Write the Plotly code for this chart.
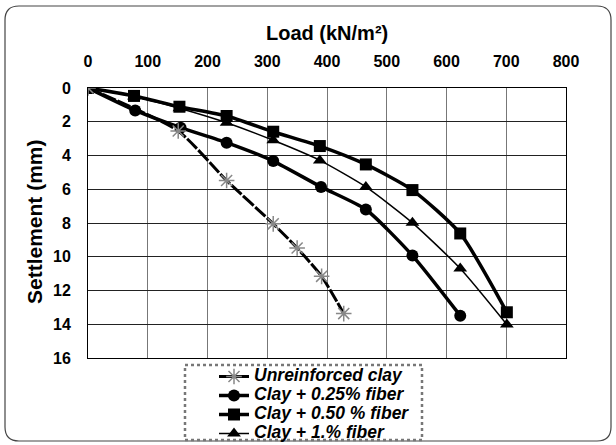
import plotly.graph_objects as go

# Data (load in kN/m2, settlement in mm)
unreinf_load = [0, 151, 232, 310, 350, 391, 428]
unreinf_settl = [0, 2.55, 5.48, 8.05, 9.48, 11.16, 13.37]

f025_load = [0, 79, 155, 232, 310, 390, 465, 543, 623]
f025_settl = [0, 1.33, 2.35, 3.24, 4.33, 5.86, 7.2, 9.93, 13.49]

f050_load = [0, 77, 153, 232, 310, 388, 465, 543, 623, 701]
f050_settl = [0, 0.47, 1.11, 1.66, 2.59, 3.44, 4.53, 6.05, 8.62, 13.29]

f100_load = [0, 77, 153, 232, 310, 388, 465, 543, 623, 701]
f100_settl = [0, 0.5, 1.2, 2.06, 3.1, 4.29, 5.86, 7.99, 10.7, 14.02]

names = ["Unreinforced clay", "Clay + 0.25% fiber", "Clay + 0.50 % fiber", "Clay + 1.% fiber"]
x_title = "Load (kN/m²)"
y_title = "Settlement (mm)"

W, H = 616, 445
L, R, T, B = 88, 50, 88, 87
pw, ph = W - L - R, H - T - B


def lab(s):
    return "<span style='font-size:17.5px'>" + s + "</span>"


fig = go.Figure()
fig.add_trace(go.Scatter(x=f100_load, y=f100_settl, name=lab(names[3]), mode="lines+markers", legendrank=4,
                         line=dict(color="black", width=1.5, shape="spline", smoothing=0.6),
                         marker=dict(symbol="triangle-up", size=12, color="black")))
fig.add_trace(go.Scatter(x=f025_load, y=f025_settl, name=lab(names[1]), mode="lines+markers", legendrank=2,
                         line=dict(color="black", width=3.5, shape="spline", smoothing=0.6),
                         marker=dict(symbol="circle", size=12, color="black")))
fig.add_trace(go.Scatter(x=f050_load, y=f050_settl, name=lab(names[2]), mode="lines+markers", legendrank=3,
                         line=dict(color="black", width=3.5, shape="spline", smoothing=0.6),
                         marker=dict(symbol="square", size=12, color="black")))
fig.add_trace(go.Scatter(x=unreinf_load, y=unreinf_settl, name=lab(names[0]), mode="lines+markers", legendrank=1,
                         line=dict(color="black", width=3, shape="spline", smoothing=0.6, dash="14px,2px"),
                         marker=dict(symbol="asterisk-open", size=13, color="#888",
                                     line=dict(color="#888", width=1.5))))


def px2paper(x, y):
    return (x - L) / pw, (H - B - y) / ph


# outer rounded border
x0, y0, x1, y1, r = 5, 6, 611, 441, 14
pts = [
    ("M", (x0 + r, y0)), ("L", (x1 - r, y0)), ("Q", (x1, y0), (x1, y0 + r)),
    ("L", (x1, y1 - r)), ("Q", (x1, y1), (x1 - r, y1)), ("L", (x0 + r, y1)),
    ("Q", (x0, y1), (x0, y1 - r)), ("L", (x0, y0 + r)), ("Q", (x0, y0), (x0 + r, y0)),
]
path = ""
for item in pts:
    cmd = item[0]
    coords = " ".join("%.5f,%.5f" % px2paper(*p) for p in item[1:])
    path += cmd + coords + " "
path += "Z"

lx0, ly0 = px2paper(185, 365)
lx1, ly1 = px2paper(422, 440)
tx, ty = px2paper(327, 33)
yx, yy = px2paper(34, 222)

fig.update_layout(
    width=W, height=H,
    margin=dict(l=L, r=R, t=T, b=B, autoexpand=False),
    paper_bgcolor="white", plot_bgcolor="white",
    font=dict(family="Liberation Sans, Arial, sans-serif", color="black"),
    showlegend=True,
    legend=dict(
        xref="container", yref="container",
        x=214 / W, y=1 - 362 / H, xanchor="left", yanchor="top",
        font=dict(size=12, weight="bold", style="italic", color="black"),
        bgcolor="rgba(0,0,0,0)", borderwidth=0,
        itemwidth=30, tracegroupgap=0,
    ),
    shapes=[
        dict(type="path", xref="paper", yref="paper", path=path,
             line=dict(color="#444", width=1.2), layer="below"),
        dict(type="rect", xref="paper", yref="paper", x0=lx0, y0=ly0, x1=lx1, y1=ly1,
             line=dict(color="#777", width=2.5, dash="dot"), layer="above"),
    ],
    annotations=[
        dict(text=x_title, xref="paper", yref="paper", x=tx, y=ty, showarrow=False,
             xanchor="center", yanchor="middle", font=dict(size=20, weight="bold")),
        dict(text=y_title, xref="paper", yref="paper", x=yx, y=yy, showarrow=False, textangle=-90,
             xanchor="center", yanchor="middle", font=dict(size=21, weight="bold")),
    ],
)

fig.update_xaxes(
    range=[0, 800], side="top", tickvals=[0, 100, 200, 300, 400, 500, 600, 700, 800],
    showgrid=True, gridcolor="#777", gridwidth=1,
    showline=True, linecolor="black", linewidth=1, mirror=True,
    zeroline=False, ticks="", ticklabelstandoff=14,
    tickfont=dict(size=16, weight="bold"),
)
fig.update_yaxes(
    range=[16, 0], tickvals=[0, 2, 4, 6, 8, 10, 12, 14, 16],
    showgrid=True, gridcolor="#222", gridwidth=1,
    showline=True, linecolor="black", linewidth=1, mirror=True,
    zeroline=False, ticks="", ticklabelstandoff=13,
    tickfont=dict(size=16, weight="bold"),
)

fig.write_html("out.html")
